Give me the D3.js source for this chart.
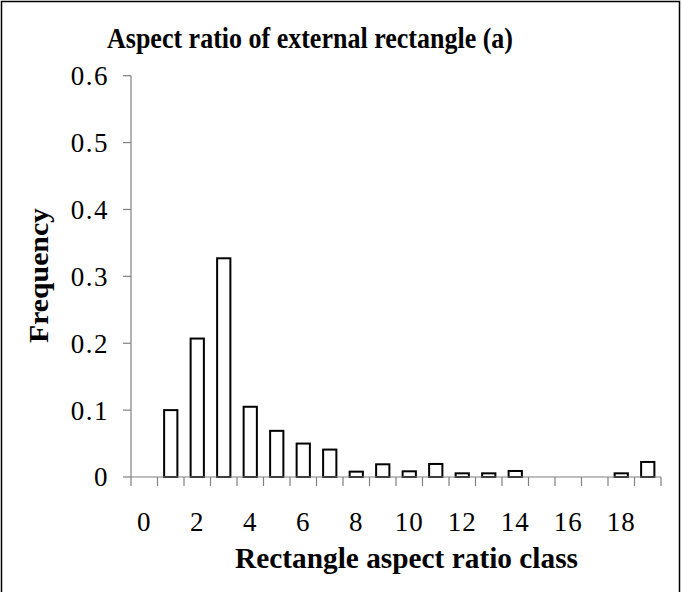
<!DOCTYPE html>
<html>
<head>
<meta charset="utf-8">
<script src="https://cdn.jsdelivr.net/npm/d3@7"></script>
<style>
  html, body { margin: 0; padding: 0; background: #fff; }
  svg { display: block; }
  text { font-family: "Liberation Serif", "Times New Roman", serif; fill: #000; }
</style>
</head>
<body>
<script>
const categories = [0,1,2,3,4,5,6,7,8,9,10,11,12,13,14,15,16,17,18,19];
const frequency = [0, 0.1, 0.207, 0.327, 0.105, 0.069, 0.05, 0.041, 0.008, 0.019,
                   0.0085, 0.0195, 0.0055, 0.0055, 0.009, 0, 0, 0, 0.0055, 0.0225];
const xTickLabels = ["0","2","4","6","8","10","12","14","16","18"];
const yTicks = [0, 0.1, 0.2, 0.3, 0.4, 0.5, 0.6];
const titleText = "Aspect ratio of external rectangle (a)";
const xTitle = "Rectangle aspect ratio class";
const yTitle = "Frequency";

(function () {
const W = 682, H = 592;
const svg = d3.select("body").append("svg").attr("width", W).attr("height", H);

// frame
svg.append("rect").attr("x", 1.5).attr("y", 1.5).attr("width", 678).attr("height", 620)
  .attr("fill", "none").attr("stroke", "#000").attr("stroke-width", 1.5);

const mLeft = 131, mRight = 661, mTop = 75.7, mBottom = 477;
const x = d3.scaleBand().domain(categories).range([mLeft, mRight]).padding(0);
const y = d3.scaleLinear().domain([0, 0.6]).range([mBottom, mTop]);

const axisColor = "#808080";

// bars
const data = categories.map((c, i) => ({c, v: frequency[i]})).filter(d => d.v > 0);
const bw = x.bandwidth() * 0.5;
svg.append("g").selectAll("rect").data(data).join("rect")
  .attr("x", d => x(d.c) + (x.bandwidth() - bw) / 2)
  .attr("y", d => y(d.v))
  .attr("width", bw)
  .attr("height", d => y(0) - y(d.v))
  .attr("fill", "#fff").attr("stroke", "#000").attr("stroke-width", 2);

// y axis
svg.append("line").attr("x1", mLeft).attr("x2", mLeft).attr("y1", y(0.6)).attr("y2", y(0))
  .attr("stroke", axisColor).attr("stroke-width", 1.2);
const yg = svg.append("g");
yg.selectAll("line").data(yTicks).join("line")
  .attr("x1", mLeft - 8).attr("x2", mLeft).attr("y1", d => y(d)).attr("y2", d => y(d))
  .attr("stroke", axisColor).attr("stroke-width", 1.2);
yg.selectAll("text").data(yTicks).join("text")
  .attr("x", 109).attr("y", d => y(d)).attr("dy", "0.35em")
  .attr("text-anchor", "end").attr("font-size", 27).attr("letter-spacing", 1.5)
  .text(d => d === 0 ? "0" : d3.format(".1f")(d));

// x axis
svg.append("line").attr("x1", mLeft).attr("x2", mRight).attr("y1", mBottom).attr("y2", mBottom)
  .attr("stroke", axisColor).attr("stroke-width", 1.2);
const tickPos = categories.map(c => x(c)).concat([mRight]);
svg.append("g").selectAll("line").data(tickPos).join("line")
  .attr("x1", d => d).attr("x2", d => d).attr("y1", mBottom).attr("y2", mBottom + 9)
  .attr("stroke", axisColor).attr("stroke-width", 1.2);
svg.append("g").selectAll("text").data(xTickLabels).join("text")
  .attr("x", d => x(+d) + x.bandwidth() / 2).attr("y", 531)
  .attr("text-anchor", "middle").attr("font-size", 27).attr("letter-spacing", 1)
  .text(d => d);

// titles
svg.append("text").attr("x", 107).attr("y", 48)
  .attr("font-size", 30).attr("font-weight", "bold")
  .attr("textLength", 406).attr("lengthAdjust", "spacingAndGlyphs").text(titleText);
svg.append("text").attr("x", 235).attr("y", 568)
  .attr("font-size", 30).attr("font-weight", "bold")
  .attr("textLength", 343).attr("lengthAdjust", "spacingAndGlyphs").text(xTitle);
svg.append("text").attr("transform", "translate(48,343) rotate(-90)")
  .attr("font-size", 28).attr("font-weight", "bold")
  .attr("textLength", 135).attr("lengthAdjust", "spacingAndGlyphs").text(yTitle);
})();
</script>
</body>
</html>
